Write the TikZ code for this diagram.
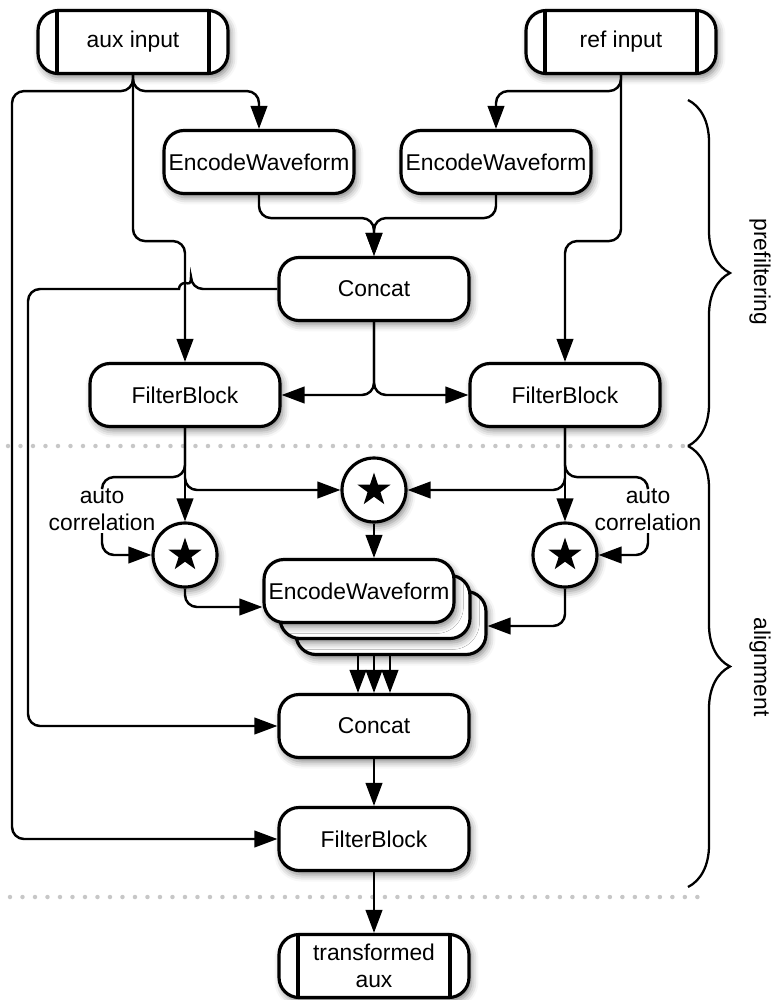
\documentclass[tikz,border=0pt]{standalone}
\usepackage{fontspec}
\setmainfont{Liberation Sans}
\usetikzlibrary{arrows.meta,calc}
\usetikzlibrary{shapes.geometric,shadows.blur}
\usetikzlibrary{decorations.pathreplacing}

\tikzset{
	boxshadow/.style={blur shadow={shadow xshift=0.05cm,shadow yshift=-0.08cm,shadow blur radius=0.14cm,shadow opacity=50}},
	block/.style={draw,line width=1.8pt,rounded corners=0.4cm,fill=white,minimum width=3.8cm,minimum height=1.26cm,inner sep=1pt,boxshadow},
	term/.style={block,path picture={
		\draw[line width=1.8pt] ([xshift=0.38cm]path picture bounding box.north west) -- ([xshift=0.38cm]path picture bounding box.south west);
		\draw[line width=1.8pt] ([xshift=-0.38cm]path picture bounding box.north east) -- ([xshift=-0.38cm]path picture bounding box.south east);}},
	xcorr/.style={circle,draw,line width=1.8pt,fill=white,minimum size=1.28cm,inner sep=0pt,boxshadow,path picture={
		\node[star,star points=5,star point ratio=2.6,fill=black,inner sep=0pt,minimum size=0.7cm] at (path picture bounding box.center) {};}},
	autolbl/.style={align=center,inner sep=1pt},
	wire/.style={line width=1.4pt,rounded corners=0.24cm,-{Triangle[length=0.46cm,width=0.33cm]}},
	plain/.style={line width=1.4pt,rounded corners=0.24cm},
	sep/.style={line width=0.09cm,line cap=round,dash pattern=on 0pt off 0.25cm,black!22},
	brace/.style={decorate,decoration={brace,amplitude=0.84cm},line width=1.3pt}
}

\begin{document}
\begin{tikzpicture}[x=0.02cm,y=-0.02cm,every node/.append style={font=\fontsize{13}{15.4}\selectfont}]
	\useasboundingbox (0,0) rectangle (771,1000);
	\coordinate (farL) at (12,0);
	\coordinate (nearL) at (28,0);

	\draw[sep] (8,446) -- (685,446);
	\draw[sep] (10,897) -- (705,897);

	\node[term] (auxIn) at (133,42) {aux input};
	\node[term] (refIn) at (621,42) {ref input};
	\node[block] (encA) at (259,162) {EncodeWaveform};
	\node[block] (encB) at (496,162) {EncodeWaveform};
	\node[block] (catA) at (374,289) {Concat};
	\node[block] (fbA) at (185,395) {FilterBlock};
	\node[block] (fbB) at (565,395) {FilterBlock};

	\node[xcorr] (xcM) at (374,490) {};
	\node[xcorr] (xcL) at (185,555) {};
	\node[xcorr] (xcR) at (565,555) {};
	\node[autolbl] (acL) at (102,510) {auto\\correlation};
	\node[autolbl] (acR) at (648,510) {auto\\correlation};

	\node[block] (encS3) at (391,623) {};
	\node[block] (encS2) at (375,607) {};
	\node[block] (encS1) at (359,591) {EncodeWaveform};
	\node[block] (catB) at (374,726) {Concat};
	\node[block] (fbC) at (374,839) {FilterBlock};
	\node[term,align=center] (auxOut) at (374,966) {transformed\\aux};

	\draw[wire] (auxIn.south) -- ++(0,16) -| (encA.north);
	\draw[wire] (auxIn.south) -- ++(0,16) -| (farL |- fbC.west) -- (fbC.west);
	\draw[wire] (auxIn.south) -- ++(0,166) -| (fbA.north);
	\draw[wire] (refIn.south) -- ++(0,16) -| (encB.north);
	\draw[wire] (refIn.south) -- ++(0,166) -| (fbB.north);

	\draw[wire] (encA.south) -- ++(0,23) -| (catA.north);
	\draw[wire] (encB.south) -- ++(0,23) -| (catA.north);
	\draw[wire] (catA.south) |- (fbA.east);
	\draw[wire] (catA.south) |- (fbB.west);
	\draw[wire] (catA.west) -- ($(fbA.north |- catA.west)+(6,0)$) [sharp corners] arc (0:-180:6) [rounded corners=0.24cm] -| (nearL |- catB.west) -- (catB.west);

	\draw[wire] (fbA.south) -- (xcL.north);
	\draw[wire] (fbA.south) |- (xcM.west);
	\draw[plain] (fbA.south) -- ++(0,49) -| (acL.north);
	\draw[wire] (acL.south) |- (xcL.west);
	\draw[wire] (fbB.south) -- (xcR.north);
	\draw[wire] (fbB.south) |- (xcM.east);
	\draw[plain] (fbB.south) -- ++(0,49) -| (acR.north);
	\draw[wire] (acR.south) |- (xcR.east);

	\draw[wire] (xcM.south) -- (xcM.south |- encS1.north);
	\draw[wire] (xcL.south) |- (encS1.west |- encS2.center);
	\draw[wire] (xcR.south) |- ([yshift=-0.06cm]encS3.east);
	\foreach \dx in {-16,0,16}
		\draw[wire] ([xshift=\dx*0.02cm]catB.north |- encS3.south) -- ([xshift=\dx*0.02cm]catB.north);
	\draw[wire] (catB.south) -- (fbC.north);
	\draw[wire] (fbC.south) -- (auxOut.north);

	\draw[brace] (688,100) -- (688,446);
	\draw[brace] (688,446) -- (688,887);
	\node[rotate=-90] (preLbl) at (760,272) {prefiltering};
	\node[rotate=-90] (alnLbl) at (760,667) {alignment};
\end{tikzpicture}
\end{document}
